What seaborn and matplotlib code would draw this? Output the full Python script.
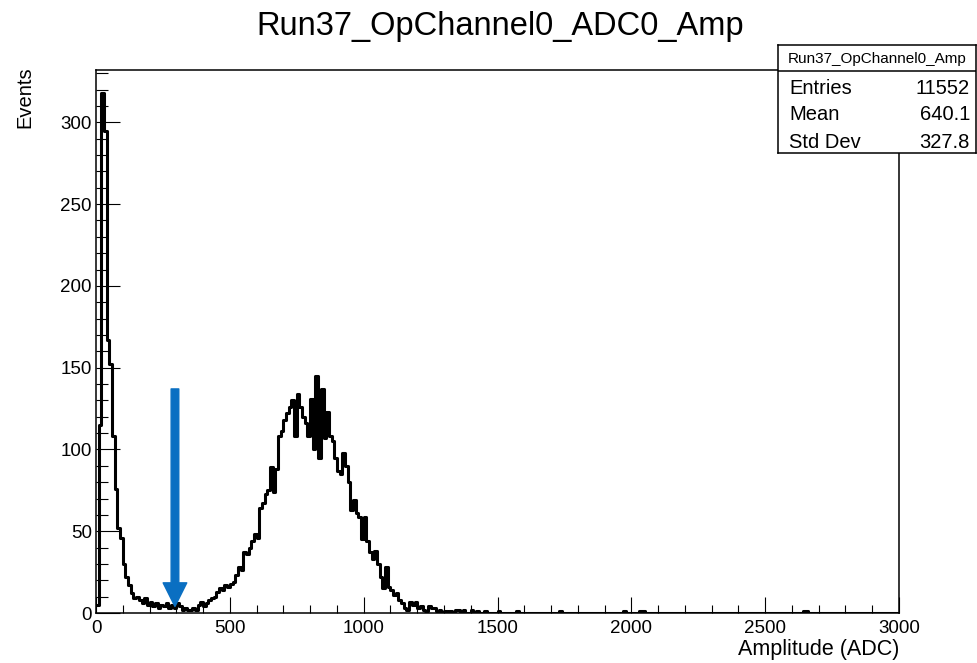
import matplotlib
matplotlib.use("Agg")
import matplotlib.pyplot as plt
from matplotlib.ticker import MultipleLocator
import numpy as np
import pandas as pd
import seaborn as sns

sns.set_style("ticks")
plt.rcParams["font.family"] = ["Liberation Sans", "DejaVu Sans"]
plt.rcParams["text.color"] = "black"
plt.rcParams["xtick.color"] = "black"
plt.rcParams["ytick.color"] = "black"

# histogram: 300 bins of 10 ADC between 0 and 3000
bin_width = 10
x_min, x_max = 0, 3000

# counts, bins 0-49 (0-500 ADC)
counts_low = [
    5, 115, 318, 295, 167, 152, 108, 76, 52, 46,
    30, 22, 17, 12, 9, 10, 8, 6, 9, 5,
    7, 4, 6, 3, 5, 4, 6, 3, 5, 3,
    6, 4, 2, 3, 2, 2, 3, 2, 5, 7,
    4, 6, 8, 9, 10, 13, 15, 14, 17, 16,
]
# bins 50-129 (500-1300 ADC)
counts_peak = [
    18, 19, 23, 28, 26, 37, 36, 40, 44, 48,
    46, 64, 67, 73, 75, 89, 74, 88, 108, 111,
    118, 122, 126, 130, 108, 134, 126, 120, 116, 108,
    131, 100, 145, 95, 137, 107, 123, 108, 105, 95,
    87, 85, 98, 90, 80, 63, 69, 61, 59, 45,
    59, 44, 37, 33, 38, 30, 22, 15, 28, 16,
    14, 11, 12, 8, 6, 3, 2, 7, 5, 7,
    3, 4, 2, 1, 4, 3, 3, 1, 2, 0,
]
# sparse entries above 1300 ADC (lower bin edge, count)
tail_adc = [1300, 1320, 1340, 1350, 1370, 1400, 1420, 1450, 1500, 1570, 1730, 1970, 2030, 2040, 2640, 2650]
tail_counts = [1, 1, 2, 2, 2, 2, 1, 1, 1, 1, 1, 1, 1, 1, 1, 1]

stats_name = "Run37_OpChannel0_Amp"
stats_rows = [("Entries", "11552"), ("Mean", "640.1"), ("Std Dev", "327.8")]

edges = np.arange(x_min, x_max + bin_width, bin_width)
counts = np.zeros(len(edges) - 1)
counts[:len(counts_low)] = counts_low
counts[len(counts_low):len(counts_low) + len(counts_peak)] = counts_peak
for adc, c in zip(tail_adc, tail_counts):
    counts[adc // bin_width] = c
df = pd.DataFrame({"amp": edges[:-1] + bin_width / 2, "n": counts})

W, H = 977, 663
fig = plt.figure(figsize=(W / 100, H / 100), dpi=100)
ax = fig.add_axes([96 / W, 1 - 613 / H, 803 / W, 543 / H])

sns.histplot(
    data=df,
    x="amp",
    weights="n",
    binwidth=bin_width,
    binrange=(x_min, x_max),
    element="step",
    fill=False,
    color="black",
    linewidth=2.2,
    ax=ax,
)

ax.set_xlim(x_min, x_max)
ax.set_ylim(0, 332)
ax.set(xlabel="", ylabel="")
for s in ax.spines.values():
    s.set_visible(True)
    s.set_linewidth(1.1)
    s.set_color("black")

ax.xaxis.set_major_locator(MultipleLocator(500))
ax.xaxis.set_minor_locator(MultipleLocator(100))
ax.yaxis.set_major_locator(MultipleLocator(50))
ax.yaxis.set_minor_locator(MultipleLocator(10))
ax.tick_params(axis="both", which="both", direction="in", width=0.8, color="black",
               labelcolor="black", labelsize=13.5, top=False, right=False)
ax.tick_params(axis="x", which="major", length=11.5, pad=5)
ax.tick_params(axis="x", which="minor", length=5.8)
ax.tick_params(axis="y", which="major", length=17.3, pad=3)
ax.tick_params(axis="y", which="minor", length=8.6)

# arrow marking the valley
ax.annotate(
    "",
    xy=(295, 4),
    xytext=(295, 137),
    arrowprops=dict(
        arrowstyle="simple,head_length=1.7,head_width=1.7,tail_width=0.55",
        mutation_scale=10,
        color="#0A6FC2",
        shrinkA=0,
        shrinkB=0,
    ),
    zorder=5,
)

fig.text(500 / W, 1 - 26 / H, "Run37_OpChannel0_ADC0_Amp", ha="center", va="center", fontsize=23.5)
fig.text(899 / W, 1 - 650 / H, "Amplitude (ADC)", ha="right", va="center", fontsize=15.5)
fig.text(25 / W, 1 - 66 / H, "Events", ha="center", va="top", rotation=90, fontsize=14.5)

# stats box
box_top, box_bottom, box_left, box_right = 45, 153, 778, 976
sax = fig.add_axes([box_left / W, 1 - box_bottom / H, (box_right - box_left) / W, (box_bottom - box_top) / H])
sax.set_xlim(box_left, box_right)
sax.set_ylim(box_bottom, box_top)
sax.set_xticks([])
sax.set_yticks([])
sax.set_facecolor("white")
for s in sax.spines.values():
    s.set_linewidth(1.1)
    s.set_color("black")
sax.axhline(71, color="black", lw=1.1)
sax.text((box_left + box_right) / 2, 59, stats_name, ha="center", va="center", fontsize=11)
for yy, (lab, val) in zip([88, 115, 142], stats_rows):
    sax.text(789, yy, lab, ha="left", va="center", fontsize=14.5)
    sax.text(970, yy, val, ha="right", va="center", fontsize=14.5)

fig.savefig("out.png", dpi=100)
